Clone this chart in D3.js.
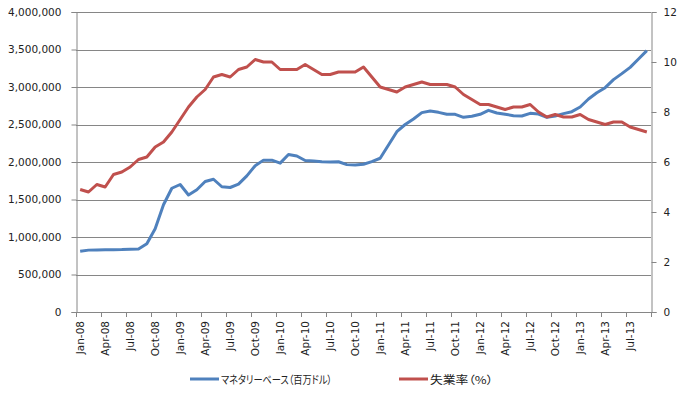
<!DOCTYPE html>
<html><head><meta charset="utf-8">
<script src="https://cdn.jsdelivr.net/npm/d3@7"></script>
<style>
html,body{margin:0;padding:0;background:#fff;}
svg text{font-family:"DejaVu Sans",Verdana,sans-serif;fill:#222;}
.leg{font-family:"Noto Sans CJK JP",sans-serif !important;font-feature-settings:"palt";}
</style></head>
<body><svg id="c" width="681" height="393"></svg>
<script>
const categories = [
"Jan-08","Feb-08","Mar-08","Apr-08","May-08","Jun-08","Jul-08","Aug-08","Sep-08","Oct-08","Nov-08","Dec-08",
"Jan-09","Feb-09","Mar-09","Apr-09","May-09","Jun-09","Jul-09","Aug-09","Sep-09","Oct-09","Nov-09","Dec-09",
"Jan-10","Feb-10","Mar-10","Apr-10","May-10","Jun-10","Jul-10","Aug-10","Sep-10","Oct-10","Nov-10","Dec-10",
"Jan-11","Feb-11","Mar-11","Apr-11","May-11","Jun-11","Jul-11","Aug-11","Sep-11","Oct-11","Nov-11","Dec-11",
"Jan-12","Feb-12","Mar-12","Apr-12","May-12","Jun-12","Jul-12","Aug-12","Sep-12","Oct-12","Nov-12","Dec-12",
"Jan-13","Feb-13","Mar-13","Apr-13","May-13","Jun-13","Jul-13","Aug-13","Sep-13"];
const monetaryBase = [
810000,825000,828000,830000,830000,832000,838000,840000,910000,1110000,1430000,1650000,
1700000,1560000,1630000,1740000,1770000,1670000,1660000,1705000,1815000,1950000,2025000,2025000,
1985000,2100000,2080000,2020000,2013000,2003000,2000000,2003000,1965000,1960000,1970000,2005000,
2050000,2227000,2404000,2500000,2573000,2658000,2680000,2662000,2636000,2636000,2596000,2609000,
2636000,2689000,2653000,2636000,2618000,2613000,2649000,2640000,2596000,2613000,2645000,2671000,
2733000,2840000,2924000,2991000,3098000,3178000,3262000,3373000,3485000];
const unemployment = [
4.9,4.8,5.1,5.0,5.5,5.6,5.8,6.1,6.2,6.6,6.8,7.2,
7.7,8.2,8.6,8.9,9.4,9.5,9.4,9.7,9.8,10.1,10.0,10.0,
9.7,9.7,9.7,9.9,9.7,9.5,9.5,9.6,9.6,9.6,9.8,9.4,
9.0,8.9,8.8,9.0,9.1,9.2,9.1,9.1,9.1,9.0,8.7,8.5,
8.3,8.3,8.2,8.1,8.2,8.2,8.3,8.0,7.8,7.9,7.8,7.8,
7.9,7.7,7.6,7.5,7.6,7.6,7.4,7.3,7.2];
const leftTicks = [0,500000,1000000,1500000,2000000,2500000,3000000,3500000,4000000];
const rightTicks = [0,2,4,6,8,10,12];
const seriesNames = ["マネタリーベース（百万ドル）","失業率（%）"];
const colors = ["#4F81BD","#C0504D"];

const svg = d3.select("#c");
const L=76, R=651, T=12, B=312;
const x = d3.scaleBand().domain(d3.range(categories.length)).range([L,R]).padding(0);
const cx = i => x(i)+x.bandwidth()/2;
const yL = d3.scaleLinear().domain([0,4000000]).range([B,T]);
const yR = d3.scaleLinear().domain([0,12]).range([B,T]);
const axisColor="#868686";

// gridlines
svg.append("g").selectAll("line").data(leftTicks.filter(d=>d>0)).join("line")
  .attr("x1",L).attr("x2",R).attr("y1",d=>Math.round(yL(d))+0.5).attr("y2",d=>Math.round(yL(d))+0.5)
  .attr("stroke",axisColor).attr("stroke-width",1);

// left axis
const gl = svg.append("g").attr("transform",`translate(${L+0.5},0)`)
  .call(d3.axisLeft(yL).tickValues(leftTicks).tickFormat(d3.format(",")).tickSize(5).tickPadding(10));
gl.select(".domain").attr("stroke",axisColor);
gl.selectAll(".tick line").attr("stroke",axisColor);
gl.selectAll("text").attr("font-size","10.5px").attr("fill","#222").attr("font-family","DejaVu Sans");

// right axis
const gr = svg.append("g").attr("transform",`translate(${R+0.5},0)`)
  .call(d3.axisRight(yR).tickValues(rightTicks).tickSize(5).tickPadding(7));
gr.select(".domain").attr("stroke",axisColor);
gr.selectAll(".tick line").attr("stroke",axisColor);
gr.selectAll("text").attr("font-size","10.5px").attr("fill","#222").attr("font-family","DejaVu Sans");

// bottom axis
svg.append("line").attr("x1",L).attr("x2",R).attr("y1",B+0.5).attr("y2",B+0.5).attr("stroke",axisColor);
const tickIdx = d3.range(0,categories.length+1,3);
svg.append("g").selectAll("line").data(tickIdx).join("line")
  .attr("x1",i=>Math.round(i<categories.length? x(i):R)+0.5).attr("x2",i=>Math.round(i<categories.length? x(i):R)+0.5)
  .attr("y1",B).attr("y2",B+5).attr("stroke",axisColor);
svg.append("g").selectAll("text").data(d3.range(0,categories.length,3)).join("text")
  .attr("transform",i=>`translate(${cx(i)},${B+9}) rotate(-90)`)
  .attr("text-anchor","end").attr("dominant-baseline","central")
  .attr("font-size","10.5px").text(i=>categories[i]);

// lines
const lineL = d3.line().x((d,i)=>cx(i)).y(d=>yL(d));
const lineR = d3.line().x((d,i)=>cx(i)).y(d=>yR(d));
svg.append("path").datum(monetaryBase).attr("d",lineL).attr("fill","none")
  .attr("stroke",colors[0]).attr("stroke-width",3).attr("stroke-linejoin","round");
svg.append("path").datum(unemployment).attr("d",lineR).attr("fill","none")
  .attr("stroke",colors[1]).attr("stroke-width",3).attr("stroke-linejoin","round");

// legend
const legX=[190,399], legY=379, legW=[111,63];
seriesNames.forEach((n,k)=>{
  svg.append("line").attr("x1",legX[k]).attr("x2",legX[k]+29).attr("y1",legY).attr("y2",legY)
    .attr("stroke",colors[k]).attr("stroke-width",3);
  svg.append("text").attr("class","leg").attr("x",legX[k]+31).attr("y",legY)
    .attr("dominant-baseline","central").attr("font-size","11px")
    .attr("textLength",legW[k]).attr("lengthAdjust","spacingAndGlyphs").text(n);
});
</script></body></html>
